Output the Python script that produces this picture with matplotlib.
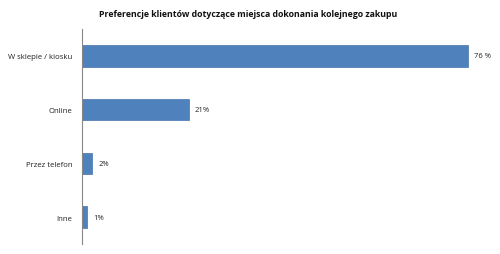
import matplotlib

matplotlib.use("Agg")
from matplotlib import pyplot as plt

categories = ["W sklepie / kiosku", "Online", "Przez telefon", "Inne"]
values = [76, 21, 2, 1]
value_labels = ["76 %", "21%", "2%", "1%"]

plt.rcParams["font.family"] = ["Open Sans", "DejaVu Sans"]

fig = plt.figure(figsize=(5, 2.55), dpi=100)
ax = fig.add_axes([0.164, 0.039, 0.812, 0.843])

pos = list(range(len(categories)))
ax.barh(pos, values, height=0.4, color="#4F81BD", edgecolor="#4573AD", linewidth=0.5)
ax.set_xlim(0, 80)
ax.set_ylim(len(categories) - 0.5, -0.5)
ax.set_yticks(pos)
ax.set_yticklabels(categories, fontsize=5.6, color="#222222")
ax.tick_params(axis="y", length=0, pad=7)
ax.set_xticks([])

for side in ["top", "right", "bottom"]:
    ax.spines[side].set_visible(False)
ax.spines["left"].set_color("#888888")
ax.spines["left"].set_linewidth(0.8)

# value labels just right of each bar
for p, v, lab in zip(pos, values, value_labels):
    ax.annotate(lab, (v, p), xytext=(4.5, 0), textcoords="offset points",
                va="center", ha="left", fontsize=5.5, color="#222222")

fig.text(0.497, 0.945, "Preferencje klientów dotyczące miejsca dokonania kolejnego zakupu",
         ha="center", va="center", fontsize=6.3, fontweight="bold", color="#111111")

fig.savefig("out.png", dpi=100)
